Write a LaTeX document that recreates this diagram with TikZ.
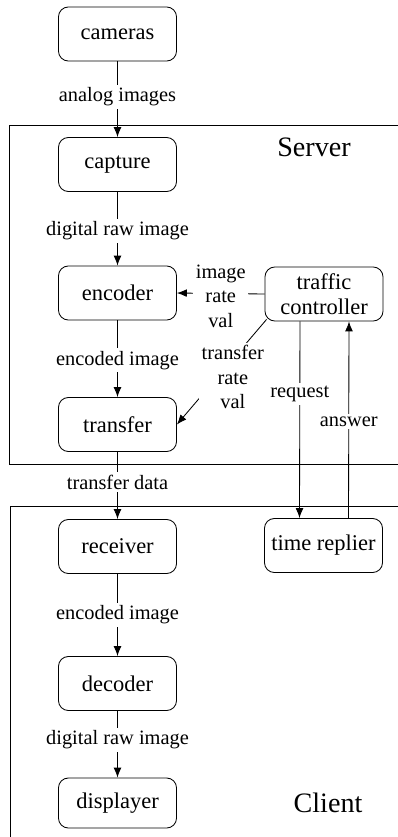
\documentclass[tikz,border=0pt]{standalone}
\usepackage{fontspec}
\setmainfont{Liberation Serif}
\usetikzlibrary{arrows.meta}
\begin{document}
\begin{tikzpicture}[x=0.025cm,y=-0.025cm,
  box/.style={draw,rounded corners=7pt,line width=0.6pt,minimum width=2.95cm,minimum height=1.35cm,inner sep=1pt,font=\fontsize{16}{19}\selectfont,align=center},
  lbl/.style={fill=white,inner sep=2pt,font=\fontsize{14.5}{17.4}\selectfont,align=center},
  arr/.style={line width=0.6pt,-{Latex[length=7pt,width=5.5pt]}},
  frame/.style={line width=0.6pt},
  big/.style={font=\fontsize{20}{24}\selectfont}]
\clip (0,0) rectangle (398,837);
\fill[white] (0,0) rectangle (398,837);
% frames
\draw[frame] (420,125) -- (9,125) -- (9,464) -- (420,464);
\draw[frame] (420,506) -- (10,506) -- (10,860);
\node[big] (server) at (314,147) {Server};
\node[big] (client) at (328,803) {Client};
% boxes
\node[box] (cameras) at (117.5,34) {cameras};
\node[box] (capture) at (117.5,164.5) {capture};
\node[box] (encoder) at (117.5,293) {encoder};
\node[box] (transfer) at (117.5,424.5) {transfer};
\node[box,minimum height=1.35cm] (tc) at (324,294) {traffic\\[-1pt]controller};
\node[box] (receiver) at (117.5,546.5) {receiver};
\node[box] (tr) at (323.5,545.5) {time replier};
\node[box] (decoder) at (117.5,683.5) {decoder};
\node[box,minimum height=1.25cm] (displayer) at (117.5,803) {displayer};
% connectors
\draw[arr] (cameras) -- node[lbl,pos=0.47]{analog images} (capture);
\draw[arr] (capture) -- node[lbl,pos=0.53]{digital raw image} (encoder);
\draw[arr] (encoder) -- node[lbl,pos=0.52]{encoded image} (transfer);
\draw[arr] (transfer) -- node[lbl,pos=0.45]{transfer data} (receiver);
\draw[arr] (receiver) -- node[lbl,pos=0.5]{encoded image} (decoder);
\draw[arr] (decoder) -- node[lbl,pos=0.43]{digital raw image} (displayer);
\draw[arr] (tc.west) -- node[lbl,pos=0.5,yshift=-2pt]{image\\rate\\val} (encoder.east);
\coordinate (tcsw) at ([xshift=0.05cm,yshift=0.05cm]tc.south west);
\draw[arr] (tcsw) -- node[lbl,pos=0.55,xshift=0.39cm]{transfer\\rate\\val} (transfer.east);
\draw[arr] ([xshift=-0.6cm]tc.south) -- node[lbl,pos=0.37]{request} ([xshift=-0.6cm]tr.north);
\draw[arr] ([xshift=0.625cm]tr.north) -- node[lbl,pos=0.49]{answer} ([xshift=0.625cm]tc.south);
\end{tikzpicture}
\end{document}
